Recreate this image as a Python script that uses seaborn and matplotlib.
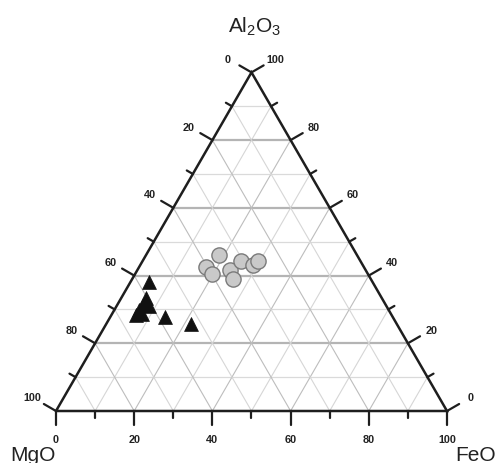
import numpy as np
import pandas as pd
import matplotlib
matplotlib.use("Agg")
import matplotlib.pyplot as plt
import seaborn as sns

# composizioni in % (Al2O3, FeO, MgO)
circ_al2o3 = [46.1, 42.5, 40.5, 41.6, 39.0, 44.3, 43.1, 44.3]
circ_feo = [18.7, 17.1, 19.7, 23.7, 25.8, 25.1, 28.8, 29.5]
circ_mgo = [35.2, 40.4, 39.8, 34.7, 35.2, 30.6, 28.1, 26.2]

tri_al2o3 = [38.1, 33.4, 31.3, 31.0, 29.8, 28.4, 28.6, 27.8, 25.7]
tri_feo = [4.7, 6.3, 6.6, 8.3, 6.3, 6.3, 7.7, 14.0, 21.7]
tri_mgo = [57.2, 60.3, 62.1, 60.7, 63.9, 65.3, 63.7, 58.2, 52.6]

tick_values = list(range(0, 101, 10))
major_values = [0, 20, 40, 60, 80, 100]

H = np.sqrt(3) / 2


def to_xy(al, fe, mg):
    al = np.asarray(al, float)
    fe = np.asarray(fe, float)
    mg = np.asarray(mg, float)
    tot = al + fe + mg
    return (fe + al / 2) / tot, al / tot * H


cx, cy = to_xy(circ_al2o3, circ_feo, circ_mgo)
tx, ty = to_xy(tri_al2o3, tri_feo, tri_mgo)
circles = pd.DataFrame({"x": cx, "y": cy})
triangles = pd.DataFrame({"x": tx, "y": ty})

sns.set_style("white")
plt.rcParams["font.family"] = ["Liberation Sans", "DejaVu Sans"]
plt.rcParams["mathtext.default"] = "regular"

px = 1 / 391  # un pixel in unita del lato
fig = plt.figure(figsize=(5.01, 4.64), dpi=100)
ax = fig.add_axes([0, 0, 1, 1])
ax.set_xlim(-56 * px, 445 * px)
ax.set_ylim(-52 * px, 412 * px)
ax.axis("off")

# griglia
for v in tick_values[1:-1]:
    a = v / 100
    major = v in major_values
    # orizzontali (Al2O3 costante)
    ax.plot([a / 2, 1 - a / 2], [a * H, a * H],
            color="#b4b4b4" if major else "#dadada",
            lw=1.6 if major else 0.9, zorder=1)
    # parallele al lato sinistro
    ax.plot([a, a + (1 - a) / 2], [0, (1 - a) * H],
            color="#bdbdbd" if major else "#d6d6d6", lw=0.8, zorder=1)
    # parallele al lato destro
    ax.plot([a, a / 2], [0, a * H],
            color="#bdbdbd" if major else "#d6d6d6", lw=0.8, zorder=1)

# triangolo
ax.plot([0, 1, 0.5, 0], [0, 0, H, 0], color="#1e1e1e", lw=1.8,
        zorder=3, solid_joinstyle="miter")

# tacche e etichette
lbl = dict(fontsize=7.8, fontweight="bold", color="#222222",
           ha="center", va="center")
dl = np.array([-np.sqrt(3) / 2, 0.5])
dr = np.array([np.sqrt(3) / 2, 0.5])
for v in tick_values:
    a = v / 100
    major = v in major_values
    L = (14 if major else 7) * px
    # base
    ax.plot([a, a], [0, -L], color="#1e1e1e", lw=1.6, zorder=3)
    # sinistra
    p = np.array([a / 2, a * H])
    ax.plot([p[0], p[0] + dl[0] * L], [p[1], p[1] + dl[1] * L],
            color="#1e1e1e", lw=1.6, zorder=3)
    # destra
    q = np.array([1 - a / 2, a * H])
    ax.plot([q[0], q[0] + dr[0] * L], [q[1], q[1] + dr[1] * L],
            color="#1e1e1e", lw=1.6, zorder=3)
    if major:
        ax.text(a, -28 * px, str(v), **lbl)
        s = p + dl * 27 * px
        ax.text(s[0], s[1], str(100 - v), **lbl)
        s = q + dr * 27 * px
        ax.text(s[0], s[1], str(v), **lbl)

# punti
sns.scatterplot(data=circles, x="x", y="y", marker="o", s=120,
                color="#c9c9c9", edgecolor="#7a7a7a", linewidth=1.0,
                ax=ax, zorder=4, legend=False)
sns.scatterplot(data=triangles, x="x", y="y", marker="^", s=100,
                color="#111111", edgecolor="#111111", linewidth=0.5,
                ax=ax, zorder=5, legend=False)
ax.set_xlabel("")
ax.set_ylabel("")

# vertici
ax.text(0.509, 0.9693, "Al$_2$O$_3$", fontsize=15, ha="center",
        va="baseline", color="#222222")
ax.text(-0.1176, -0.1253, "MgO", fontsize=15, ha="left",
        va="baseline", color="#222222")
ax.text(1.022, -0.1253, "FeO", fontsize=15, ha="left",
        va="baseline", color="#222222")

fig.savefig("out.png", dpi=100)
